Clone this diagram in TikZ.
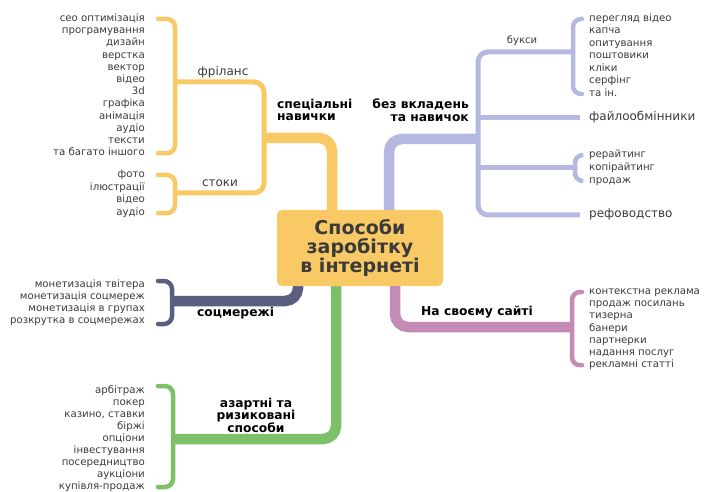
\documentclass[tikz,border=0pt]{standalone}
\usepackage{fontspec}
\setmainfont{DejaVu Sans}
\usetikzlibrary{positioning,calc}
\definecolor{mapyellow}{HTML}{F8C965}
\definecolor{maplilac}{HTML}{B5B9E2}
\definecolor{mapslate}{HTML}{5B5F7F}
\definecolor{mapgreen}{HTML}{7CC06A}
\definecolor{mapplum}{HTML}{C38BB6}
\definecolor{maptext}{HTML}{3A3A3A}
\tikzset{
  trunk/.style={line width=10.5pt, rounded corners=13pt},
  twig/.style={line width=5pt, rounded corners=10pt},
  brace/.style={line width=4.5pt, rounded corners=8pt, line cap=round},
  leafL/.style={anchor=east, inner sep=0pt, text height=7pt, text depth=2pt,
    text=maptext, font=\fontsize{10.2}{11}\selectfont},
  leafR/.style={leafL, anchor=west},
  head/.style={inner sep=0pt, font=\bfseries\fontsize{12.3}{12.5}\selectfont, text=black},
  sub/.style={inner sep=0pt, text=maptext, font=\fontsize{12}{12}\selectfont},
  hub/.style={fill=mapyellow, rounded corners=5pt, minimum width=166pt, minimum height=76pt,
    align=center, font=\bfseries\fontsize{19}{18.5}\selectfont, text=maptext}
}
\begin{document}
\begin{tikzpicture}[x=1pt,y=-1pt]
    \useasboundingbox (0,0) rectangle (705,492);

    % junctions
    \coordinate (spj) at (264,138);
    \coordinate (frb) at (175,82);
    \coordinate (stb) at (175,193);
    \coordinate (bzj) at (478,139);
    \coordinate (bxb) at (573,52);
    \coordinate (rwb) at (575,168);
    \coordinate (scb) at (172,301);
    \coordinate (azb) at (173,439);
    \coordinate (sab) at (572,327);

    % leaves
    \foreach \t [count=\i] in {сео оптимізація, програмування, дизайн, верстка, вектор, відео,
        3d, графіка, анімація, аудіо, тексти, та багато іншого}
        \node[leafL] (fr\i) at (145, 19+12.2*\i-12.2) {\t};
    \foreach \t [count=\i] in {фото, ілюстрації, відео, аудіо}
        \node[leafL] (st\i) at (145, 175+12.7*\i-12.7) {\t};
    \foreach \t [count=\i] in {перегляд відео, капча, опитування, поштовики, кліки, серфінг, та ін.}
        \node[leafR] (bx\i) at (589, 19+12.5*\i-12.5) {\t};
    \foreach \t [count=\i] in {рерайтинг, копірайтинг, продаж}
        \node[leafR] (rw\i) at (589, 155+13*\i-13) {\t};
    \foreach \t [count=\i] in {монетизація твітера, монетизація соцмереж, монетизація в групах,
        розкрутка в соцмережах}
        \node[leafL] (sc\i) at (145, 285+12*\i-12) {\t};
    \foreach \t [count=\i] in {арбітраж, покер, {казино, ставки}, біржі, опціони, інвестування,
        посередництво, аукціони, купівля-продаж}
        \node[leafL] (az\i) at (145, 391+12*\i-12) {\t};
    \foreach \t [count=\i] in {контекстна реклама, продаж посилань, тизерна, банери, партнерки,
        надання послуг, рекламні статті}
        \node[leafR] (sa\i) at (589, 292+12.2*\i-12.2) {\t};
    \node[leafR, font=\fontsize{12}{12}\selectfont] (file) at (589,118) {файлообмінники};
    \node[leafR, font=\fontsize{12}{12}\selectfont] (ref) at (589,215) {рефоводство};

    % labels
    \node[head, anchor=west, align=left] (spec) at (277,110) {спеціальні\\навички};
    \node[head, anchor=east, align=right] (bez) at (469,110) {без вкладень\\та навичок};
    \node[head, anchor=west] (soc) at (197,313) {соцмережі};
    \node[head, anchor=west] (site) at (421,312) {На своєму сайті};
    \node[head, align=center] (azart) at (256,415) {азартні та\\ризиковані\\способи};
    \node[sub] (free) at (223,72) {фріланс};
    \node[sub] (stock) at (220,183) {стоки};
    \node[sub, font=\fontsize{10}{12}\selectfont] (buks) at (522,41) {букси};

    % yellow: special skills
    \draw[trunk, mapyellow] (332,210) |- (spj);
    \draw[twig, mapyellow] (frb) -| (spj) |- (stb);
    \draw[brace, mapyellow] ([xshift=13pt]fr1.east) -| (frb) |- ([xshift=13pt]fr12.east);
    \draw[brace, mapyellow] ([xshift=13pt]st1.east) -| (stb) |- ([xshift=13pt]st4.east);

    % lilac: no skills
    \draw[trunk, maplilac] (389,210) |- (bzj);
    \draw[twig, maplilac] (bxb) -| (bzj) |- ([xshift=-9pt]ref.west);
    \draw[twig, maplilac] (bzj |- file.west) -- ([xshift=-9pt]file.west);
    \draw[twig, maplilac] (bzj |- rwb) -- (rwb);
    \draw[brace, maplilac] ([xshift=-7pt]bx1.west) -| (bxb) |- ([xshift=-7pt]bx7.west);
    \draw[brace, maplilac] ([xshift=-7pt]rw1.west) -| (rwb) |- ([xshift=-7pt]rw3.west);

    % slate: social
    \draw[trunk, mapslate] (298,286) |- (scb);
    \draw[brace, mapslate] ([xshift=13pt,yshift=4pt]sc1.east) -| (scb) |- ([xshift=13pt,yshift=-3pt]sc4.east);

    % green: risky
    \draw[trunk, mapgreen] (336,286) |- (azb);
    \draw[brace, mapgreen] ([xshift=13pt,yshift=5pt]az1.east) -| (azb) |- ([xshift=13pt]az9.east);

    % plum: own site
    \draw[trunk, mapplum] (395,286) |- (sab);
    \draw[brace, mapplum] ([xshift=-7pt]sa1.west) -| (sab) |- ([xshift=-7pt]sa7.west);

    % centre
    \node[hub] (mid) at (360,248) {Способи\\заробітку\\в інтернеті};
\end{tikzpicture}
\end{document}
